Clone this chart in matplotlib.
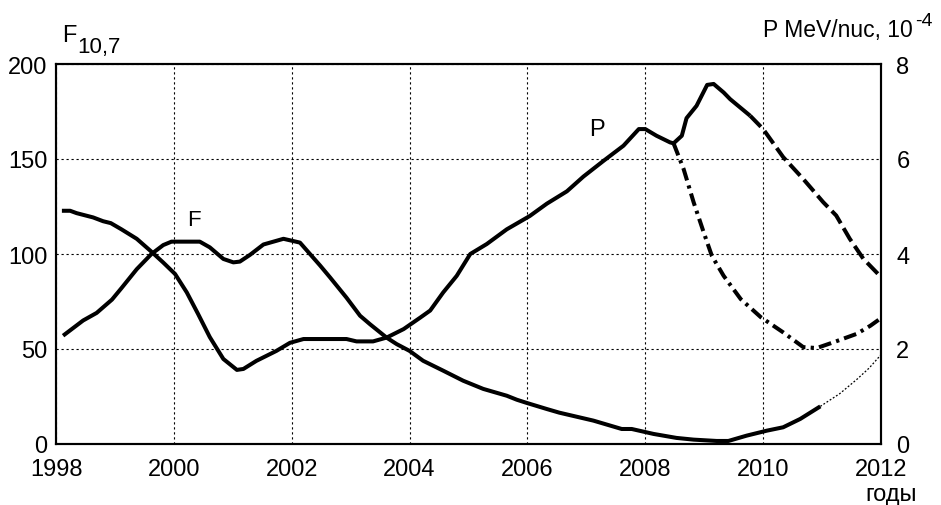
import numpy as np
import matplotlib
matplotlib.use('Agg')
import matplotlib.pyplot as plt

plt.rcParams['font.family'] = ['Liberation Sans', 'DejaVu Sans']

# F10.7 flux (left axis)
f_years = [1998.12, 1998.46, 1998.69, 1998.95, 1999.11, 1999.37, 1999.62, 1999.82,
           1999.96, 2000.44, 2000.61, 2000.84, 2001.01, 2001.12, 2001.29, 2001.52,
           2001.86, 2002.14, 2002.48, 2002.65, 2002.93, 2003.16, 2003.33, 2003.61,
           2003.78, 2004.0, 2004.23, 2004.57, 2004.91, 2005.25, 2005.65, 2005.82,
           2005.99, 2006.33, 2006.54, 2007.12, 2007.6, 2007.77, 2008.14, 2008.53,
           2008.82, 2009.21, 2009.41, 2009.72, 2010.06, 2010.34, 2010.63, 2010.97]
f_vals = [57, 65, 69, 76, 82, 92, 100, 104.7,
          106.5, 106.5, 103.5, 97.4, 95.6, 96, 99.5, 105,
          108, 106, 94, 87.7, 77, 67.5, 63, 56,
          52.6, 49, 43.8, 38.6, 33.3, 29, 25.4, 23.3,
          21.6, 18.4, 16.5, 12.3, 7.9, 7.9, 5.3, 3.2,
          2.3, 1.6, 1.6, 4.4, 7, 8.8, 13.2, 19.8]
# forecast of F (thin dotted)
f_fc_years = [2010.97, 2011.3, 2011.59, 2011.8, 2012.0]
f_fc_vals = [19.8, 26.5, 34, 40, 47]

# P, MeV/nuc x 1e-4 (right axis)
p_years = [1998.1, 1998.24, 1998.35, 1998.63, 1998.8, 1998.93, 1999.11, 1999.37,
           1999.6, 1999.82, 2000.02, 2000.22, 2000.41, 2000.61, 2000.84, 2001.07,
           2001.18, 2001.4, 2001.74, 2001.97, 2002.2, 2002.93, 2003.1, 2003.38,
           2003.61, 2003.9, 2004.18, 2004.35, 2004.57, 2004.8, 2005.03, 2005.31,
           2005.65, 2006.04, 2006.33, 2006.67, 2006.95, 2007.29, 2007.63, 2007.89,
           2008.0, 2008.19, 2008.42, 2008.48, 2008.62, 2008.7, 2008.87, 2009.05,
           2009.16, 2009.33, 2009.44, 2009.78]
p_vals = [4.91, 4.91, 4.86, 4.77, 4.69, 4.65, 4.52, 4.32,
          4.07, 3.82, 3.58, 3.19, 2.74, 2.25, 1.79, 1.56,
          1.58, 1.75, 1.96, 2.13, 2.21, 2.21, 2.16, 2.16,
          2.24, 2.42, 2.66, 2.81, 3.19, 3.54, 4.0, 4.21,
          4.52, 4.8, 5.06, 5.32, 5.63, 5.96, 6.28, 6.63,
          6.63, 6.49, 6.35, 6.33, 6.49, 6.86, 7.12, 7.56,
          7.58, 7.4, 7.26, 6.91]
# forecast 1 (dashed)
p_fc1_years = [2009.78, 2010.0, 2010.34, 2010.68, 2011.02, 2011.24, 2011.47, 2011.7, 2011.95, 2012.0]
p_fc1_vals = [6.91, 6.63, 6.04, 5.58, 5.09, 4.81, 4.32, 3.9, 3.58, 3.54]
# forecast 2 (dash-dot)
p_fc2_years = [2008.48, 2008.65, 2008.82, 2008.99, 2009.13, 2009.33, 2009.62, 2009.96,
               2010.34, 2010.68, 2010.91, 2011.19, 2011.59, 2011.82, 2012.0]
p_fc2_vals = [6.33, 5.79, 5.09, 4.46, 3.96, 3.54, 3.05, 2.67,
              2.35, 2.04, 2.02, 2.14, 2.32, 2.49, 2.65]

x_ticks = [1998, 2000, 2002, 2004, 2006, 2008, 2010, 2012]
f_ticks = [0, 50, 100, 150, 200]
p_ticks = [0, 2, 4, 6, 8]

W, H = 941, 506
fig = plt.figure(figsize=(W / 100, H / 100), dpi=100)
ax = fig.add_axes([56 / W, 1 - 445 / H, (881 - 56) / W, (445 - 65) / H])
ax2 = ax.twinx()

lw = 2.9
ax.plot(f_years, f_vals, color='black', lw=lw, solid_capstyle='butt')
ax.plot(f_fc_years, f_fc_vals, color='black', lw=0.9, linestyle=(0, (1.5, 1.5)))

ax2.plot(p_years, p_vals, color='black', lw=lw, solid_capstyle='butt')
ax2.plot(p_fc1_years, p_fc1_vals, color='black', lw=lw, linestyle=(0, (3.8, 1.4)))
ax2.plot(p_fc2_years, p_fc2_vals, color='black', lw=lw, linestyle=(0, (3.2, 1.3, 0.8, 1.3)))

ax.set_xlim(1998, 2012)
ax.set_ylim(0, 200)
ax2.set_ylim(0, 8)
ax.set_xticks(x_ticks)
ax.set_yticks(f_ticks)
ax2.set_yticks(p_ticks)
ax.grid(True, color='black', lw=0.8, linestyle=(0, (2, 2.5)))

ax.tick_params(axis='both', direction='in', length=0, labelsize=17, pad=6)
ax.tick_params(axis='x', pad=10)
ax2.tick_params(axis='y', direction='in', length=0, labelsize=17, pad=11)
for a in (ax, ax2):
    for s in a.spines.values():
        s.set_linewidth(1.5)

ax.text(2000.34, 118.4, 'F', fontsize=16, ha='center', va='center')
ax2.text(2007.18, 6.63, 'P', fontsize=17, ha='center', va='center')

fig.text(62 / W, 1 - 42 / H, 'F', fontsize=17, va='baseline', ha='left')
fig.text(77 / W, 1 - 53 / H, '10,7', fontsize=16, va='baseline', ha='left')
fig.text(763 / W, 1 - 37 / H, 'P MeV/nuc, 10', fontsize=16.5, va='baseline', ha='left')
fig.text(915 / W, 1 - 26 / H, '-4', fontsize=14, va='baseline', ha='left')
fig.text(865 / W, 1 - 501 / H, 'годы', fontsize=17, va='baseline', ha='left')

fig.savefig('out.png', dpi=100)
